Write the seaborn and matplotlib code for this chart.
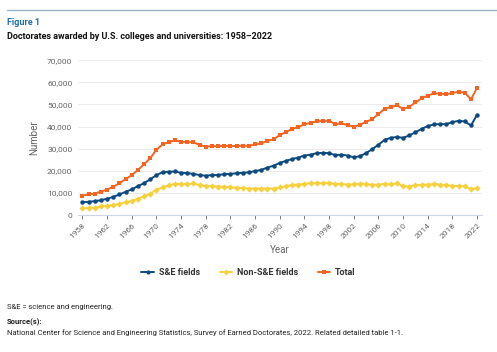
import matplotlib.pyplot as plt
import pandas as pd
import numpy as np
import seaborn as sns

years = list(range(1958, 2023))

total = [8800, 9300, 9700, 10600, 11500, 12800, 14300, 16300, 18000, 20400,
         22900, 25700, 29500, 31900, 33000, 33800, 33100, 33000, 32900, 31700,
         30900, 31200, 31000, 31400, 31100, 31300, 31300, 31300, 31900, 32400,
         33500, 34300, 36100, 37500, 38900, 39800, 41000, 41700, 42400, 42500,
         42600, 41100, 41400, 40700, 40000, 40800, 42100, 43400, 45600, 48100,
         48800, 49600, 48000, 48900, 50900, 52700, 54000, 55000, 54900, 54600,
         55200, 55700, 55300, 52300, 57600]

se_fields = [5800, 6000, 6300, 6700, 7400, 8200, 9300, 10500, 11600, 13100,
             14400, 16200, 18000, 19400, 19600, 19700, 19100, 19000, 18600, 18100,
             17800, 18100, 18100, 18500, 18600, 18900, 19100, 19300, 19900, 20400,
             21500, 22300, 23600, 24500, 25300, 26000, 26900, 27300, 28000, 28100,
             28000, 27100, 27300, 26900, 26100, 26600, 28000, 29800, 31800, 34000,
             34900, 35300, 34900, 36000, 37400, 39000, 40200, 41000, 41100, 41100,
             42000, 42600, 42300, 40500, 45400]

non_se_fields = [3000, 3300, 3400, 3900, 4100, 4600, 5000, 5800, 6400, 7300,
                 8500, 9500, 11500, 12500, 13400, 14100, 14000, 14000, 14300, 13600,
                 13100, 13100, 12900, 12900, 12500, 12400, 12200, 12000, 12000, 12000,
                 12000, 12000, 12500, 13000, 13600, 13800, 14100, 14400, 14400, 14400,
                 14600, 14000, 14100, 13800, 13900, 14200, 14100, 13600, 13800, 14100,
                 13900, 14300, 13100, 12900, 13500, 13700, 13800, 14000, 13800, 13500,
                 13200, 13100, 13000, 11800, 12200]

series_names = ['S&E fields', 'Non-S&E fields', 'Total']
colors = ['#0e4a80', '#f7d13d', '#f26522']
markers = ['o', 'D', 's']

df = pd.DataFrame({'Year': years, 'S&E fields': se_fields,
                   'Non-S&E fields': non_se_fields, 'Total': total})
long = df.melt(id_vars='Year', var_name='Series', value_name='Number')

sns.set_theme(style='white')
plt.rcParams['font.family'] = ['Roboto', 'DejaVu Sans']

fig = plt.figure(figsize=(4.97, 3.52), dpi=100)
ax = fig.add_axes([0.157, 0.389, 0.813, 0.44])

sns.lineplot(data=long, x='Year', y='Number', hue='Series', style='Series',
             hue_order=series_names, style_order=series_names,
             palette=colors, markers=markers, dashes=False,
             markersize=3.2, markeredgewidth=0, linewidth=1.4, ax=ax, legend=False)

ax.set_xlim(1957.3, 2022.8)
ax.set_ylim(0, 70000)
ax.set_yticks(range(0, 70001, 10000))
ax.set_yticklabels([f'{v:,}' for v in range(0, 70001, 10000)])
ax.set_xticks(range(1958, 2023, 4))
ax.set_xticklabels([str(y) for y in range(1958, 2023, 4)], rotation=45, ha='right',
                   rotation_mode='anchor')
ax.tick_params(axis='y', labelsize=6, colors='#666666', length=0, pad=4)
ax.tick_params(axis='x', labelsize=6, colors='#666666', length=3, width=0.6,
               direction='out', pad=2, bottom=True)
for t in ax.get_xticklines():
    t.set_color('#ccd6eb')
ax.grid(axis='y', color='#e6e6e6', linewidth=0.6)
ax.set_axisbelow(True)
for s in ['top', 'right', 'left']:
    ax.spines[s].set_visible(False)
ax.spines['bottom'].set_color('#ccd6eb')
ax.spines['bottom'].set_linewidth(0.8)
ax.set_xlabel('Year', fontsize=7, color='#666666', labelpad=4)
ax.set_ylabel('Number', fontsize=7, color='#666666', labelpad=6)

handles = [plt.Line2D([], [], color=c, marker=m, markersize=3, markeredgewidth=0,
                      linewidth=1.4) for c, m in zip(colors, markers)]
leg = fig.legend(handles, series_names, loc='center', bbox_to_anchor=(0.5, 0.225),
                 ncol=3, frameon=False, fontsize=6.5, handlelength=1.4,
                 columnspacing=2.2, handletextpad=0.5)
for t in leg.get_texts():
    t.set_fontweight('bold')
    t.set_color('#333333')

fig.add_artist(plt.Line2D([0.014, 1.0], [0.972, 0.972], color='#9bb3c9', linewidth=1))
fig.text(0.014, 0.937, 'Figure 1', fontsize=6.5, fontweight='bold', color='#1f6fa8',
         va='center')
fig.text(0.014, 0.897, 'Doctorates awarded by U.S. colleges and universities: 1958\u20132022',
         fontsize=6.5, fontweight='bold', color='#111111', va='center')
fig.text(0.014, 0.128, 'S&E = science and engineering.', fontsize=5.5, color='#222222',
         va='center')
fig.text(0.014, 0.085, 'Source(s):', fontsize=5.5, fontweight='bold', color='#222222',
         va='center')
fig.text(0.014, 0.056, 'National Center for Science and Engineering Statistics, Survey of '
         'Earned Doctorates, 2022. Related detailed table 1-1.', fontsize=5.5,
         color='#222222', va='center')

fig.savefig('out.png', dpi=100)
